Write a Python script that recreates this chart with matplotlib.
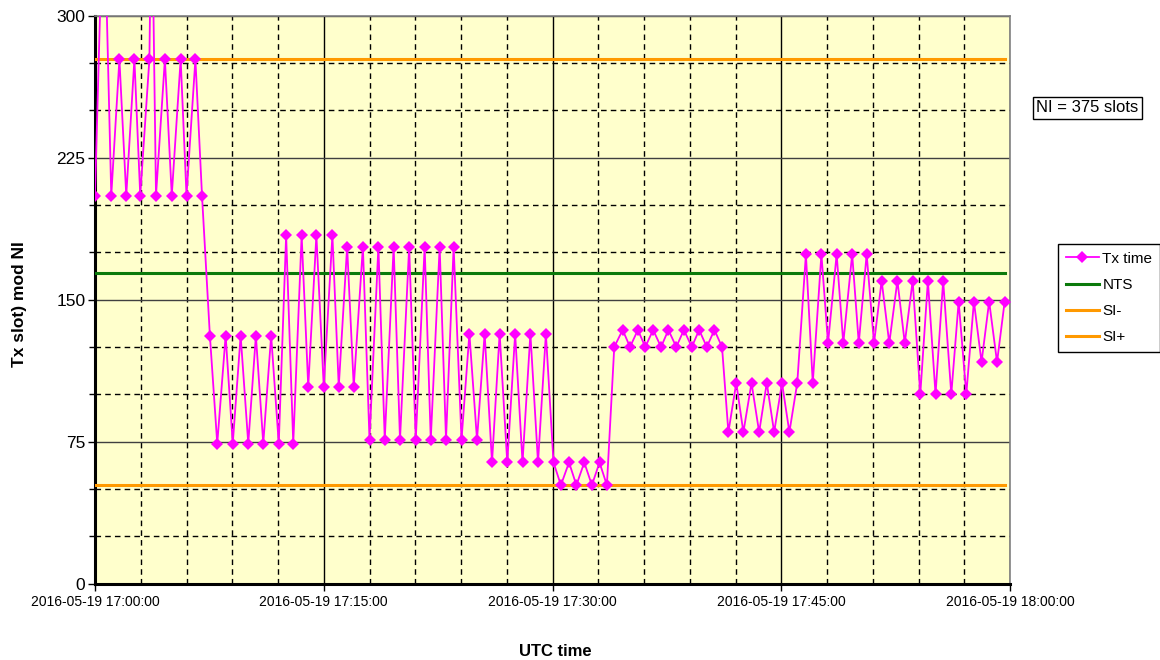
import matplotlib
matplotlib.use("Agg")
import matplotlib.pyplot as plt
import matplotlib.dates as mdates
from matplotlib.ticker import FixedLocator
import pandas as pd

# ---- data ----
start_time = "2016-05-19 17:00:00"
tx_seconds = [0, 34, 64, 96, 123, 155, 178, 214, 223, 240, 275, 302, 337, 360, 395, 421,
              452, 481, 514, 542, 573, 603, 633, 662, 693, 723, 752, 780, 813, 839, 871, 900,
              934, 959, 992, 1018, 1054, 1080, 1115, 1140, 1175, 1200, 1236, 1262, 1297, 1321,
              1356, 1381, 1411, 1442, 1473, 1503, 1533, 1562, 1592, 1622, 1653, 1682, 1713,
              1743, 1774, 1804, 1833, 1865, 1894, 1925, 1955, 1985, 2014, 2043, 2076, 2105,
              2136, 2165, 2196, 2227, 2256, 2287, 2317, 2348, 2377, 2407, 2437, 2467, 2492,
              2523, 2551, 2583, 2613, 2643, 2672, 2703, 2732, 2763, 2797, 2824, 2858, 2884,
              2918, 2944, 2979, 3005, 3036, 3065, 3095, 3125, 3157, 3186, 3217, 3247, 3277,
              3307, 3337, 3369, 3398, 3428, 3458, 3488, 3518, 3549, 3579]
tx_slot_mod = [205, 370, 205, 277, 205, 277, 205, 277, 370, 205, 277, 205, 277, 205, 277, 205,
               131, 74, 131, 74, 131, 74, 131, 74, 131, 74, 184, 74, 184, 104, 184, 104,
               184, 104, 178, 104, 178, 76, 178, 76, 178, 76, 178, 76, 178, 76,
               178, 76, 178, 76, 132, 76, 132, 64, 132, 64, 132, 64, 132,
               64, 132, 64, 52, 64, 52, 64, 52, 64, 52, 125, 134, 125,
               134, 125, 134, 125, 134, 125, 134, 125, 134, 125, 134, 125, 80,
               106, 80, 106, 80, 106, 80, 106, 80, 106, 174, 106, 174, 127,
               174, 127, 174, 127, 174, 127, 160, 127, 160, 127, 160, 100, 160,
               100, 160, 100, 149, 100, 149, 117, 149, 117, 149]
nts_value = 164
si_minus_value = 52
si_plus_value = 277
ni_slots = 375
y_major_ticks = [0, 75, 150, 225, 300]
y_minor_ticks = [25, 50, 100, 125, 175, 200, 250, 275]
series_names = ["Tx time", "NTS", "SI-", "SI+"]

# ---- build times ----
t0 = pd.Timestamp(start_time)
times = [t0 + pd.Timedelta(seconds=s) for s in tx_seconds]
t_end = t0 + pd.Timedelta(hours=1)

plt.rcParams['font.family'] = ['Liberation Sans', 'DejaVu Sans']

fig = plt.figure(figsize=(11.6, 6.6), dpi=100)
ax = fig.add_axes([95 / 1160, 1 - 583.6 / 660, (1010 - 95) / 1160, (583.6 - 15.7) / 660])
ax.set_facecolor('#FFFFCC')

line_span = [times[0], times[-1]]
ax.plot(line_span, [nts_value] * 2, color='#0B7A0B', lw=2.2, label=series_names[1], zorder=3)
ax.plot(line_span, [si_minus_value] * 2, color='#FF9900', lw=2.2, label=series_names[2], zorder=3)
ax.plot(line_span, [si_plus_value] * 2, color='#FF9900', lw=2.2, label=series_names[3], zorder=3)
ax.plot(times, tx_slot_mod, color='#FF00FF', lw=1.3, marker='D', markersize=6.0,
        markeredgewidth=0, label=series_names[0], zorder=4)

ax.set_xlim(t0, t_end)
ax.set_ylim(0, 300)

ax.xaxis.set_major_locator(mdates.MinuteLocator(byminute=[0, 15, 30, 45]))
ax.xaxis.set_minor_locator(mdates.MinuteLocator(byminute=range(0, 60, 3)))
ax.xaxis.set_major_formatter(mdates.DateFormatter('%Y-%m-%d %H:%M:%S'))
ax.yaxis.set_major_locator(FixedLocator(y_major_ticks))
ax.yaxis.set_minor_locator(FixedLocator(y_minor_ticks))

ax.grid(which='major', axis='y', color='#404040', lw=1.0, linestyle='-', zorder=1)
ax.grid(which='major', axis='x', color='#000000', lw=1.0, linestyle='-', zorder=1)
ax.grid(which='minor', color='#000000', lw=1.0, linestyle=(0, (4, 3)), zorder=1)
ax.set_axisbelow(True)

for s in ['top', 'right']:
    ax.spines[s].set_color('#808080')
    ax.spines[s].set_linewidth(1.2)
for s in ['left', 'bottom']:
    ax.spines[s].set_color('#000000')
    ax.spines[s].set_linewidth(2.2)

ax.tick_params(which='major', direction='out', length=5, width=1, colors='#000000',
               labelsize=10, pad=3)
ax.tick_params(axis='x', which='minor', length=0)
ax.tick_params(axis='y', which='minor', direction='out', length=4, width=1, colors='#000000')
ax.tick_params(axis='y', which='major', labelsize=12.5, pad=2)

fig.text(20 / 1160, 1 - 304 / 660, "Tx slot) mod NI", rotation=90, ha='center', va='center',
         fontsize=12.5, fontweight='bold')
fig.text(555 / 1160, 1 - 651.5 / 660, "UTC time", ha='center', va='center',
         fontsize=12, fontweight='bold')

fig.text(1087.5 / 1160, 1 - 108 / 660, f"NI = {ni_slots} slots", ha='center', va='center',
         fontsize=12,
         bbox=dict(boxstyle='square,pad=0.22', facecolor='white', edgecolor='black', lw=1))

handles, labels = ax.get_legend_handles_labels()
order = [3, 0, 1, 2]
leg = fig.legend([handles[i] for i in order], [labels[i] for i in order],
                 loc='upper left', bbox_to_anchor=(1058 / 1160, 1 - 244 / 660),
                 bbox_transform=fig.transFigure, borderaxespad=0, fancybox=False,
                 edgecolor='black', framealpha=1, fontsize=11, handlelength=2.2,
                 handletextpad=0.2, labelspacing=0.8, borderpad=0.5)
leg.get_frame().set_linewidth(1.0)

fig.savefig("out.png", dpi=100, facecolor='white')
